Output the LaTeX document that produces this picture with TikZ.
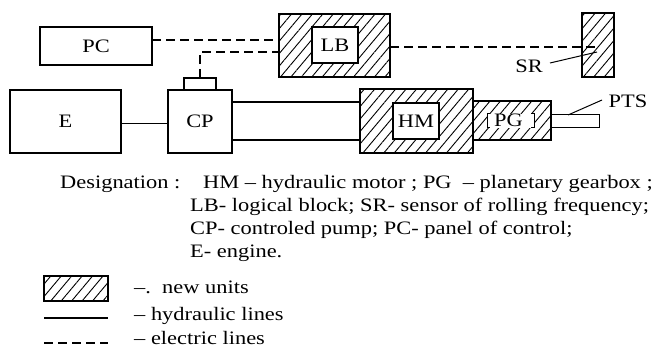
\documentclass[tikz,border=0pt]{standalone}
\usepackage{fontspec}
\setmainfont[FakeStretch=1.18]{Liberation Serif}
\usetikzlibrary{patterns.meta}
\begin{document}
\begin{tikzpicture}[x=1pt,y=-1pt,
  unit/.style={draw,line width=1.3pt,inner sep=0pt,outer sep=0pt,anchor=north west},
  newunit/.style={unit,pattern={Lines[angle=50,distance=8pt,line width=0.9pt]}},
  inbox/.style={unit,fill=white},
  elec/.style={line width=1.4pt,dash pattern=on 9pt off 5pt},
  hyd/.style={line width=2.4pt},
  thin/.style={line width=1pt},
  lbl/.style={font=\fontsize{19}{21}\selectfont,inner sep=0pt},
  txt/.style={font=\fontsize{19}{21}\selectfont,inner sep=0pt,anchor=base west}]
\useasboundingbox (0,0) rectangle (660,349);
% boxes
\node[unit,minimum width=112pt,minimum height=38pt] (PC) at (40,27) {};
\node[lbl] at (PC.center) {PC};
\node[unit,minimum width=111pt,minimum height=63pt] (E) at (10,90) {};
\node[lbl] at (E.center) {E};
\node[unit,minimum width=64pt,minimum height=63pt] (CP) at (168,90) {};
\node[lbl] at (CP.center) {CP};
\node[unit,minimum width=32pt,minimum height=12pt] (cap) at (184,78) {};
\node[newunit,minimum width=111pt,minimum height=63pt] (LB) at (279,14) {};
\node[inbox,minimum width=46pt,minimum height=36pt] (LBi) at (312,27) {};
\node[lbl] at (LBi.center) {LB};
\node[newunit,minimum width=32pt,minimum height=64pt] (SR) at (582,13) {};
\node[newunit,minimum width=113pt,minimum height=64pt] (HM) at (360,89) {};
\node[inbox,minimum width=46pt,minimum height=36pt] (HMi) at (393,103) {};
\node[lbl] at (HMi.center) {HM};
\node[newunit,minimum width=78pt,minimum height=39pt] (PG) at (473,101) {};
\node[fill=white,inner sep=0pt,outer sep=0pt,minimum width=47pt,minimum height=14pt] (PGi) at (510.5,120.5) {};
\draw[thin] ([xshift=3pt]PGi.north west) -- (PGi.north west) -- (PGi.south west) -- ([xshift=3pt]PGi.south west);
\draw[thin] ([xshift=-3pt]PGi.north east) -- (PGi.north east) -- (PGi.south east) -- ([xshift=-3pt]PGi.south east);
\node[lbl] at ([xshift=-2pt]PGi.center) {PG};
\node[unit,line width=1pt,minimum width=48pt,minimum height=13pt] (PTS) at (551,114) {};
% labels
\node[lbl] (SRl) at (529,66) {SR};
\node[lbl] (PTSl) at (628,101) {PTS};
\coordinate (SRin) at (598,47);
\draw[thin] (550,63) -- (597,52);
\draw[thin] (602,100) -- (568,115);
% connectors
\draw[elec] (PC.east|-0,40) -- (LB.west|-0,40);
\draw[elec] (cap.north) |- (LB.west|-0,52);
\draw[elec] (LB.east|-0,47) -- (SRin);
\draw[thin] (E.east|-0,123) -- (CP.west|-0,123);
\draw[hyd] (CP.east|-0,102) -- (HM.west|-0,102);
\draw[hyd] (CP.east|-0,140) -- (HM.west|-0,140);
% designation
\node[txt] at (60,188) {Designation :};
\node[txt] at (203,188) {HM -- hydraulic motor ; PG~ -- planetary gearbox ;};
\node[txt] at (190,211) {LB- logical block; SR- sensor of rolling frequency;};
\node[txt] at (190,234) {CP- controled pump; PC- panel of control;};
\node[txt] at (190,257) {E- engine.};
% legend
\node[newunit,minimum width=64pt,minimum height=25pt] (legH) at (44,276) {};
\draw[hyd] (44,318) coordinate (h1) -- (108,318) coordinate (h2);
\draw[elec] (44,343) coordinate (e1) -- (108,343) coordinate (e2);
\node[txt] at (134,293) {--.~~new units};
\node[txt] at (134,320) {-- hydraulic lines};
\node[txt] at (134,344) {-- electric lines};
\end{tikzpicture}
\end{document}
